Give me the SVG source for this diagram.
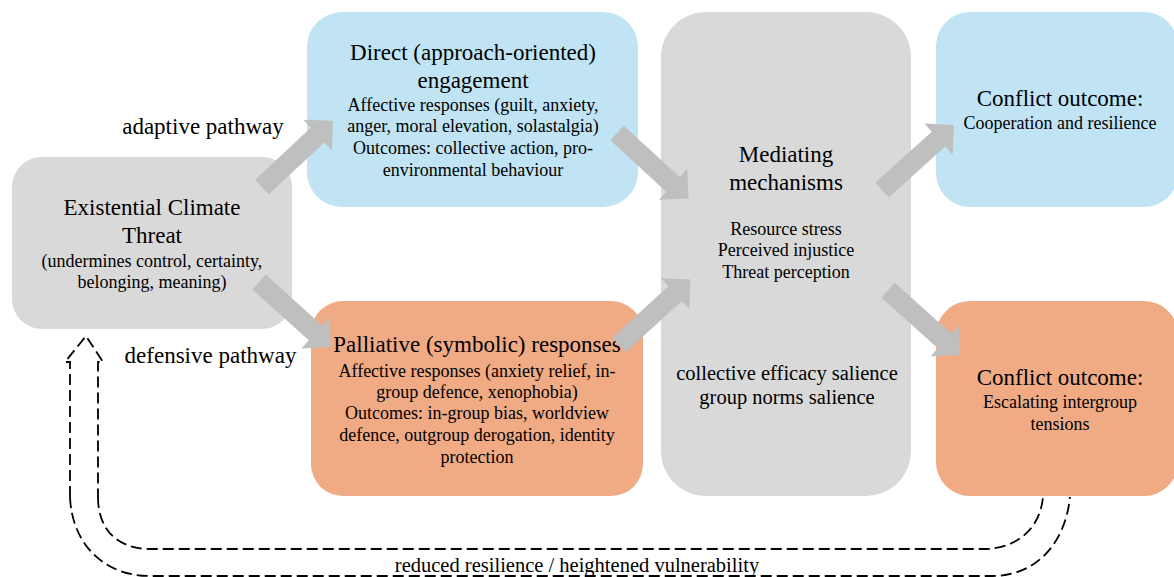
<svg xmlns="http://www.w3.org/2000/svg" width="1174" height="577" viewBox="0 0 1174 577">
<style>
.blue{fill:#C0E4F4}
.orange{fill:#F0AA84}
.grey{fill:#D9D9D9}
.arr{fill:#BFBFBF}
text{fill:#000;text-anchor:middle}
.h{font-size:23px}
.s{font-size:18px}
.m{font-size:20.5px}
.lbl{font-size:23px}
.fb{font-size:20.5px}
.dash{fill:none;stroke:#000;stroke-width:1.8;stroke-dasharray:11 5}
</style>
<defs>
<path id="ba" d="M0,-10 H76 V-21 L97,0 L76,21 V10 H0 Z"/>
</defs>
<rect width="1174" height="577" fill="#fff"/>

<g id="connectors">
<path class="dash" d="M70,497 V362 H65 L86,336 L103,362 H98 V497"/>
<path class="dash" d="M98,497 C98,530 118,549 150,549 H984 C1015,549 1040,530 1043,497"/>
<path class="dash" d="M70,497 C72,545 105,576 150,576 H992 C1035,576 1065,545 1070,497"/>
</g>

<g font-family="Liberation Serif, Times New Roman, Tinos, serif">
<g id="n-threat">
<rect class="grey" x="12" y="157" width="280" height="172" rx="30"/>
<text class="h" x="152" y="215">Existential Climate</text>
<text class="h" x="152" y="243">Threat</text>
<text class="s" x="152" y="267">(undermines control, certainty,</text>
<text class="s" x="152" y="288">belonging, meaning)</text>
</g>

<g id="n-direct">
<rect class="blue" x="307" y="12" width="331" height="195" rx="35"/>
<text class="h" x="473" y="60">Direct (approach-oriented)</text>
<text class="h" x="473" y="88">engagement</text>
<text class="s" x="473" y="111">Affective responses (guilt, anxiety,</text>
<text class="s" x="473" y="132">anger, moral elevation, solastalgia)</text>
<text class="s" x="473" y="154">Outcomes: collective action, pro-</text>
<text class="s" x="473" y="176">environmental behaviour</text>
</g>

<g id="n-palliative">
<rect class="orange" x="311" y="301" width="332" height="195" rx="32"/>
<text class="h" x="477" y="352">Palliative (symbolic) responses</text>
<text class="s" x="477" y="377">Affective responses (anxiety relief, in-</text>
<text class="s" x="477" y="398">group defence, xenophobia)</text>
<text class="s" x="477" y="419">Outcomes: in-group bias, worldview</text>
<text class="s" x="477" y="441">defence, outgroup derogation, identity</text>
<text class="s" x="477" y="463">protection</text>
</g>

<g id="n-mediating">
<rect class="grey" x="661" y="12" width="250" height="484" rx="45"/>
<text class="h" x="786" y="162">Mediating</text>
<text class="h" x="786" y="190">mechanisms</text>
<text class="s" x="786" y="235">Resource stress</text>
<text class="s" x="786" y="256">Perceived injustice</text>
<text class="s" x="786" y="278">Threat perception</text>
<text class="m" x="787" y="380">collective efficacy salience</text>
<text class="m" x="787" y="404">group norms salience</text>
</g>

<g id="n-cooperation">
<rect class="blue" x="936" y="12" width="242" height="195" rx="34"/>
<text class="h" x="1060" y="106">Conflict outcome:</text>
<text class="s" x="1060" y="129">Cooperation and resilience</text>
</g>

<g id="n-escalation">
<rect class="orange" x="936" y="301" width="242" height="195" rx="34"/>
<text class="h" x="1060" y="385">Conflict outcome:</text>
<text class="s" x="1060" y="408">Escalating intergroup</text>
<text class="s" x="1060" y="430">tensions</text>
</g>

<g id="block-arrows">
<use href="#ba" class="arr" transform="translate(262,187) rotate(-43)"/>
<use href="#ba" class="arr" transform="translate(259,282) rotate(42)"/>
<use href="#ba" class="arr" transform="translate(617,133) rotate(42.5)"/>
<use href="#ba" class="arr" transform="translate(619,345) rotate(-42.5)"/>
<use href="#ba" class="arr" transform="translate(882,190) rotate(-42)"/>
<use href="#ba" class="arr" transform="translate(888,290) rotate(42)"/>
</g>

<g id="labels">
<text class="lbl" x="203" y="134">adaptive pathway</text>
<text class="lbl" x="210.5" y="363">defensive pathway</text>
<text class="fb" x="577" y="572">reduced resilience / heightened vulnerability</text>
</g>
</g>
</svg>
